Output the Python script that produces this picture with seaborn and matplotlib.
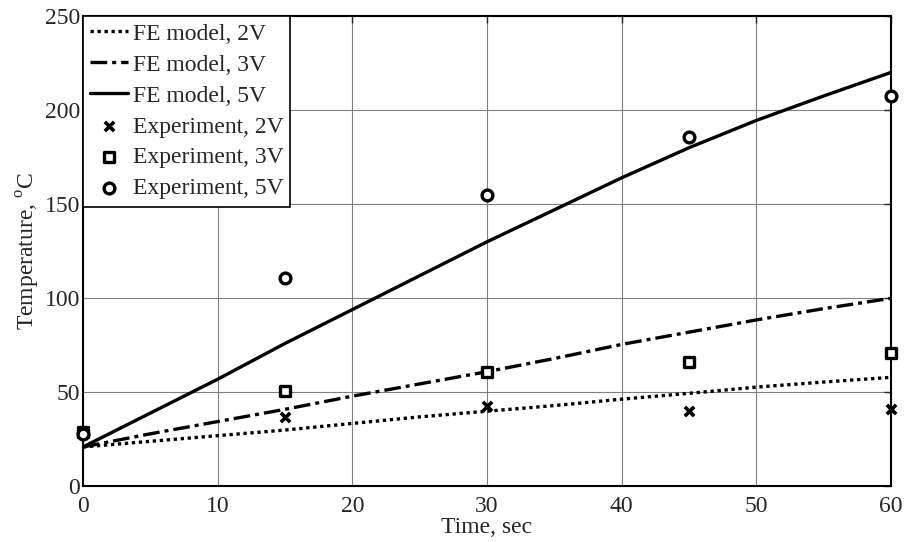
import matplotlib
matplotlib.use("Agg")
import matplotlib.pyplot as plt
import seaborn as sns

# FE model curves
time_fe = [0, 5, 10, 15, 20, 25, 30, 35, 40, 45, 50, 55, 60]
fe_2v = [21, 24, 27, 30, 33.5, 37, 40, 43, 46.4, 49.5, 52.8, 55.5, 58]
fe_3v = [21, 28, 34.5, 41, 48, 54.5, 61, 68, 75.5, 82, 88.5, 94.5, 100]
fe_5v = [21, 39, 57, 76, 94, 112, 130, 147, 164, 180, 194.5, 207.5, 220]

# experiments
time_exp = [0, 15, 30, 45, 60]
exp_2v = [28, 37, 43, 40, 41]
exp_3v = [29, 51, 61, 66, 71]
exp_5v = [28, 111, 155, 185.5, 207.5]

sns.set_style("white")
plt.rcParams['font.family'] = ['Liberation Serif', 'DejaVu Serif']
plt.rcParams['mathtext.fontset'] = 'custom'
plt.rcParams['mathtext.rm'] = 'Liberation Serif'
plt.rcParams['font.size'] = 17

fig = plt.figure(figsize=(9.06, 5.42), dpi=100)
ax = fig.add_axes([0.0916, 0.1024, 0.8918, 0.8681])

sns.lineplot(x=time_fe, y=fe_2v, ax=ax, color='k', lw=2.4, linestyle=(0, (1, 1.1)), label='FE model, 2V')
sns.lineplot(x=time_fe, y=fe_3v, ax=ax, color='k', lw=2.4, linestyle=(0, (5, 1.5, 1.2, 1.5)), label='FE model, 3V')
sns.lineplot(x=time_fe, y=fe_5v, ax=ax, color='k', lw=2.4, linestyle='-', label='FE model, 5V')

sns.scatterplot(x=time_exp, y=exp_2v, ax=ax, marker='x', color='k', s=45, linewidth=2.6,
                label='Experiment, 2V', clip_on=False, zorder=5)
sns.scatterplot(x=time_exp, y=exp_3v, ax=ax, marker='s', facecolor='white', edgecolor='k', s=50,
                linewidth=2.4, label='Experiment, 3V', clip_on=False, zorder=5)
sns.scatterplot(x=time_exp, y=exp_5v, ax=ax, marker='o', facecolor='white', edgecolor='k', s=60,
                linewidth=2.4, label='Experiment, 5V', clip_on=False, zorder=5)

ax.set_xlim(0, 60)
ax.set_ylim(0, 250)
ax.set_xticks([0, 10, 20, 30, 40, 50, 60])
ax.set_yticks([0, 50, 100, 150, 200, 250])
ax.grid(True, color='#808080', lw=0.8)
ax.tick_params(direction='in', top=True, right=True, length=5, width=1, labelsize=17)
ax.tick_params(axis='x', pad=7)
ax.tick_params(axis='y', pad=2)
for sp in ax.spines.values():
    sp.set_color('k')
    sp.set_linewidth(1.5)

ax.set_xlabel('Time, sec', fontsize=17, labelpad=0)
ax.set_ylabel('Temperature, $^{\\mathrm{o}}$C', fontsize=17, labelpad=2)

leg = ax.legend(loc='upper left', borderaxespad=0, fancybox=False, edgecolor='k', framealpha=1,
                handlelength=1.6, handletextpad=0.2, borderpad=0.3, labelspacing=0.4, fontsize=17)
leg.get_frame().set_linewidth(1.2)

fig.savefig('out.png', dpi=100)
